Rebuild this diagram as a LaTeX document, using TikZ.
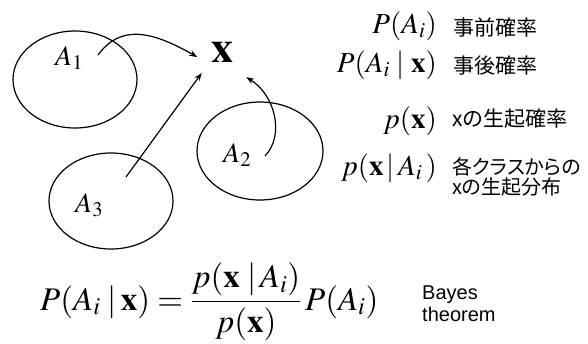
\documentclass[tikz,border=0pt]{standalone}
\usepackage{mathptmx}
\usepackage[no-math]{fontspec}
\newfontfamily\jpfont{Noto Sans CJK JP}
\newfontfamily\jppfont[RawFeature=+palt]{Noto Sans CJK JP}
\newfontfamily\arialfont{Liberation Sans}
\usetikzlibrary{arrows.meta}

\begin{document}
\begin{tikzpicture}[x=1pt,y=-1pt,>={Stealth[length=8pt,width=6pt]},
  every node/.style={inner sep=0pt},
  lbl/.style={anchor=base west,font=\fontsize{28}{32}\selectfont},
  term/.style={anchor=base east,font=\fontsize{29}{34}\selectfont},
  note/.style={anchor=west,align=left,font=\jpfont\fontsize{21}{20}\selectfont},
  link/.style={->,line width=1.2pt}]
  \useasboundingbox (0,0) rectangle (588,343);

  % classes
  \draw[line width=1.2pt] (75,79.5) ellipse (62 and 48.5);
  \draw[line width=1.2pt] (260,151) ellipse (63 and 49);
  \draw[line width=1.2pt] (111,201) ellipse (62 and 48);
  \node[lbl] (a1) at (55,65) {$A_1$};
  \node[lbl] (a2) at (223,162) {$A_2$};
  \node[lbl] (a3) at (75,212) {$A_3$};

  % observation
  \node[circle,minimum size=58pt,font=\fontsize{44}{50}\selectfont] (X)
    at (222,52) {$\mathbf{x}$};
  \coordinate (s1) at (98,55);
  \coordinate (s2) at (265,156);
  \coordinate (s3) at (126,177);
  \draw[link,shorten >=-5pt] (s1) .. controls (120,25) and (150,30) .. (X.185);
  \draw[link] (s3) -- (X.226);
  \draw[link,shorten >=6pt] (s2) .. controls (285,135) and (275,95) .. (X.311);

  % terms
  \node[term] (pa) at (437,33) {$P(A_i)$};
  \node[term] (pax) at (437,72) {$P(A_i\;|\;\mathbf{x})$};
  \node[term] (px) at (437,128) {$p(\mathbf{x})$};
  \node[term] (pxa) at (437,175) {$p(\mathbf{x}\,|\,A_i\,)$};
  \node[note] (prior) at (453,27) {事前確率};
  \node[note] (post) at (453,66) {事後確率};
  \node[note] (evid) at (452,119) {xの生起確率};
  \node[note,font=\jppfont\fontsize{20}{20}\selectfont] (lik) at (452,177)
    {各クラスからの\\xの生起分布};

  % Bayes
  \node[anchor=base west,font=\fontsize{33}{38}\selectfont] (bayes) at (40,310)
    {$\displaystyle P(A_i\;|\,\mathbf{x}) = \frac{p(\mathbf{x}\;|\,A_i)}{p(\mathbf{x})}\,P(A_i)$};
  \node[anchor=west,align=left,font=\arialfont\fontsize{20}{22}\selectfont] (thm)
    at (422,304) {Bayes\\theorem};
\end{tikzpicture}
\end{document}
